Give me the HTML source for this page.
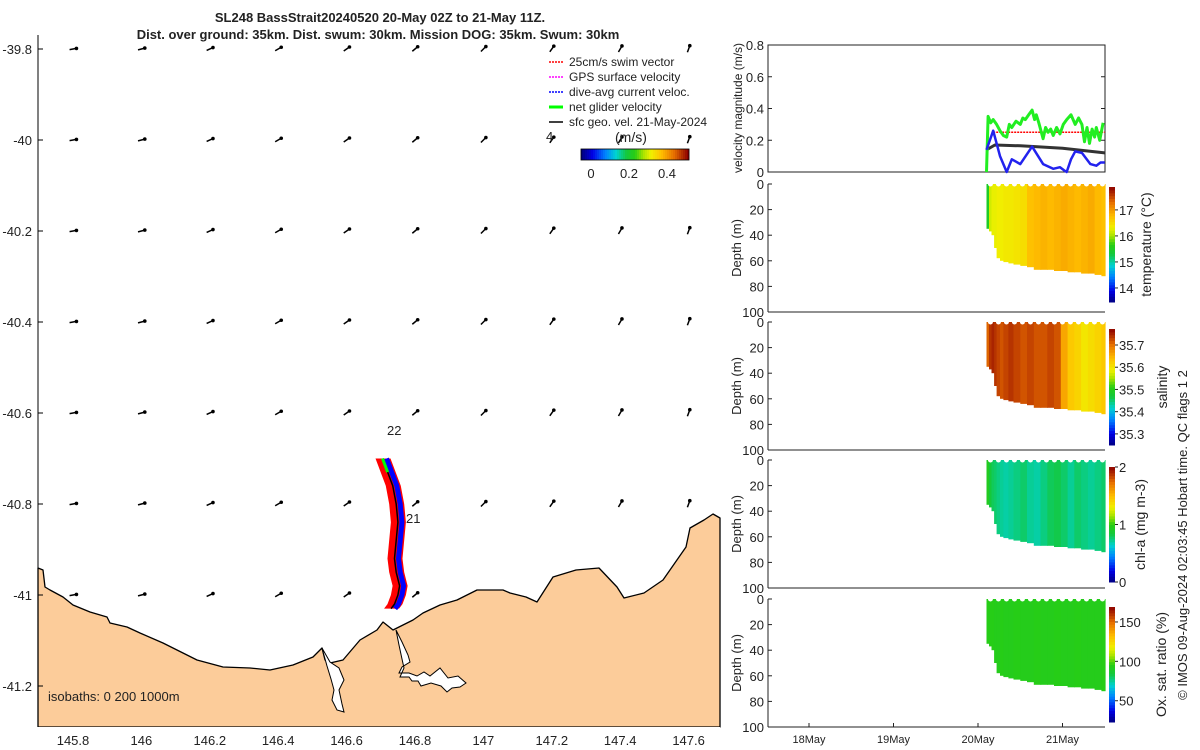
<!DOCTYPE html>
<html><head><meta charset="utf-8">
<style>
html,body{margin:0;padding:0;background:#fff;}
svg{display:block;font-family:"Liberation Sans","DejaVu Sans",sans-serif;}
text{fill:#222;}
</style></head>
<body>
<svg id="chart" width="1200" height="750" viewBox="0 0 1200 750" xmlns="http://www.w3.org/2000/svg">
<text x="380" y="22" text-anchor="middle" font-weight="bold" font-size="13">SL248 BassStrait20240520 20-May 02Z to 21-May 11Z.</text>
<text x="378" y="39" text-anchor="middle" font-weight="bold" font-size="13">Dist. over ground: 35km. Dist. swum: 30km. Mission DOG: 35km. Swum: 30km</text>
<g id="map"></g>
<g id="right"></g>
</svg>
<script>
// ---------- DATA ----------
const lonTicks=[145.8,146,146.2,146.4,146.6,146.8,147,147.2,147.4,147.6];
const latTicks=[-39.8,-40,-40.2,-40.4,-40.6,-40.8,-41,-41.2];
const arrowLons=[145.8,146,146.2,146.4,146.6,146.8,147,147.2,147.4,147.6];
const arrowLats=[-39.8,-40,-40.2,-40.4,-40.6,-40.8,-41];
const arrowAngles=[10,15,25,30,35,40,45,55,60,70];
const trackLon=[146.705,146.72,146.735,146.745,146.75,146.745,146.74,146.745,146.755,146.75,146.74,146.73];
const trackLat=[-40.70,-40.73,-40.76,-40.80,-40.84,-40.88,-40.92,-40.95,-40.98,-41.00,-41.02,-41.03];
const coastP=[[38,568],[43,570],[45,587],[50,590],[63,597],[73,605],[90,612],[107,617],[110,623],[127,627],[140,633],[163,643],[183,653],[197,660],[223,667],[250,668],[270,670],[293,665],[313,657],[322,648],[325,660],[330,663],[343,660],[360,640],[377,630],[383,622],[393,630],[407,623],[413,620],[423,613],[440,605],[457,600],[477,590],[490,590],[503,590],[510,593],[526,597],[537,602],[553,577],[576,570],[599,568],[617,587],[624,598],[644,593],[663,580],[686,547],[690,528],[704,520],[713,514],[720,518]];
const velTicks=[0,0.2,0.4,0.6,0.8];
const greenT=[20.10,20.12,20.15,20.18,20.22,20.26,20.30,20.34,20.37,20.40,20.45,20.50,20.53,20.56,20.60,20.64,20.67,20.69,20.72,20.77,20.80,20.83,20.86,20.89,20.93,20.97,21.01,21.05,21.10,21.15,21.19,21.23,21.26,21.29,21.32,21.35,21.38,21.40,21.44,21.48];
const greenV=[0.0,0.35,0.31,0.33,0.30,0.26,0.23,0.22,0.30,0.28,0.32,0.30,0.34,0.33,0.36,0.39,0.33,0.36,0.31,0.21,0.28,0.25,0.27,0.23,0.28,0.24,0.30,0.33,0.36,0.30,0.34,0.30,0.19,0.28,0.18,0.27,0.22,0.28,0.20,0.31];
const blueT=[20.10,20.18,20.26,20.34,20.40,20.50,20.64,20.77,20.89,20.97,21.02,21.05,21.10,21.15,21.23,21.33,21.40,21.45,21.50];
const blueV=[0.14,0.26,0.10,0.00,0.08,0.05,0.16,0.05,0.02,0.03,0.01,0.00,0.08,0.13,0.12,0.05,0.04,0.06,0.06];
const blackT=[20.10,20.20,20.50,21.00,21.50];
const blackV=[0.14,0.17,0.165,0.15,0.12];
const redT=[20.18,21.50];
const redV=[0.25,0.25];
const dayTicks=[18,19,20,21];
const dayLabels=["18May","19May","20May","21May"];
const profT=[20.10,20.13,20.16,20.19,20.22,20.26,20.30,20.36,20.42,20.50,20.58,20.66,20.74,20.82,20.90,20.98,21.06,21.14,21.22,21.30,21.38,21.46];
const profDepth=[35,37,40,50,58,60,61,62,63,64,65,67,67,67,68,68,69,69,70,70,71,72];
const tempV=[15.5,16.2,16.3,16.3,16.35,16.35,16.4,16.4,16.45,16.5,16.75,16.8,16.85,16.8,16.85,16.9,16.85,16.8,16.85,16.9,16.8,16.75];
const salV=[35.71,35.74,35.75,35.74,35.73,35.72,35.73,35.74,35.73,35.72,35.73,35.72,35.72,35.73,35.72,35.66,35.63,35.62,35.60,35.61,35.62,35.63];
const chlV=[0.95,0.85,0.8,0.78,0.75,0.72,0.7,0.72,0.75,0.78,0.72,0.7,0.75,0.8,0.82,0.78,0.72,0.78,0.75,0.72,0.75,0.78];
const oxyV=[95,95,95,94,94,95,94,94,95,94,94,95,94,94,95,94,94,95,94,94,94,95];
const depthTicks=[0,20,40,60,80,100];
const tempTicks=[14,15,16,17], salTicks=[35.3,35.4,35.5,35.6,35.7], chlTicks=[0,1,2], oxyTicks=[50,100,150], legTicks=[0,0.2,0.4];

// ---------- HELPERS ----------
const NS="http://www.w3.org/2000/svg";
function mk(tag,attrs,parent,txt){const e=document.createElementNS(NS,tag);for(const k in attrs)e.setAttribute(k,attrs[k]);if(txt!==undefined)e.textContent=txt;parent.appendChild(e);return e;}
const lonX=lon=>73+(lon-145.8)*342;
const latY=lat=>49+(-39.8-lat)*455;
const stops=[[0,[0,0,128]],[0.1,[0,0,230]],[0.22,[0,130,255]],[0.32,[0,210,210]],[0.42,[20,200,60]],[0.5,[40,205,20]],[0.58,[170,228,0]],[0.65,[240,240,0]],[0.75,[255,190,0]],[0.87,[230,110,0]],[1,[140,0,0]]];
function cmap(f){f=Math.max(0,Math.min(1,f));for(let i=1;i<stops.length;i++){if(f<=stops[i][0]){const a=stops[i-1],b=stops[i],r=(f-a[0])/(b[0]-a[0]);const c=a[1].map((v,j)=>Math.round(v+(b[1][j]-v)*r));return `rgb(${c})`;}}return 'rgb(140,0,0)';}

// ---------- MAP ----------
const map=document.getElementById('map');
let d='M'+coastP.map(p=>p[0]+','+p[1]).join(' L')+' L720,727 L38,727 Z';
let land=mk('path',{d:d,fill:'#fccc9a',stroke:'#000','stroke-width':1.3,'stroke-linejoin':'round'},map);


let riv=mk('path',{d:'M396,630 L402,642 L408,655 L410,662 L402,667 L399,673 L409,673 L417,676 L424,672 L430,676 L440,668 L448,678 L458,676 L466,683 L460,687 L452,688 L447,692 L441,686 L431,683 L421,686 L418,681 L412,681 L409,677 L400,677 L404,668 L402,659 L399,645 Z M322,648 L327,666 L331,679 L334,690 L332,700 L337,710 L344,712 L342,704 L339,690 L344,680 L339,668 L330,662 Z',fill:'#fff',stroke:'#000','stroke-width':1},map);


mk('rect',{x:0,y:727,width:720,height:23,fill:'#fff'},map);
mk('line',{x1:38,y1:35,x2:38,y2:727,stroke:'#000','stroke-width':1},map);
lonTicks.forEach(l=>{const t=mk('text',{x:lonX(l),y:745,'text-anchor':'middle','font-size':13},map,String(l));});
latTicks.forEach(l=>{const y=latY(l);mk('line',{x1:38,y1:y,x2:43,y2:y,stroke:'#000'},map);const t=mk('text',{x:32,y:y+5,'text-anchor':'end','font-size':13},map,String(l));});
arrowLats.forEach(la=>arrowLons.forEach((lo,i)=>{
  if(la===-41&&lo>=147) return;
  const x=lonX(lo),y=latY(la),a=arrowAngles[i]*Math.PI/180,L=7;
  const g=mk('g',{},map);
  
  
  mk('line',{x1:x-Math.cos(a)*L/2,y1:y+Math.sin(a)*L/2,x2:x+Math.cos(a)*L/2,y2:y-Math.sin(a)*L/2,stroke:'#000','stroke-width':1.5},g);
  mk('circle',{cx:x+Math.cos(a)*L/2,cy:y-Math.sin(a)*L/2,r:1.8,fill:'#000'},g);
}));
const tx=trackLon.map(lonX), ty=trackLat.map(latY);
let rp='M'+tx.map((x,i)=>(x-7)+','+ty[i]).join(' L')+' L'+tx.slice().reverse().map((x,i)=>(x+8)+','+ty[ty.length-1-i]).join(' L')+' Z';
let red=mk('path',{d:rp,fill:'#f00'},map);


let bl=mk('polyline',{points:tx.map((x,i)=>(x+4)+','+ty[i]).join(' '),fill:'none',stroke:'#00f','stroke-width':5},map);


let bk=mk('polyline',{points:tx.map((x,i)=>x+','+ty[i]).join(' '),fill:'none',stroke:'#000','stroke-width':1.5},map);


mk('line',{x1:tx[0],y1:ty[0],x2:tx[1],y2:ty[1],stroke:'#0f0','stroke-width':3},map);
mk('text',{x:387,y:435,'font-size':13},map,'22');
mk('text',{x:406,y:523,'font-size':13},map,'21');
const iso=mk('text',{x:48,y:701,'font-size':13},map,'isobaths: 0   200  1000m');
iso.setAttribute('xml:space','preserve');
const leg=[['#f00','25cm/s swim vector'],['#f0f','GPS surface velocity'],['#00f','dive-avg current veloc.'],['#0f0','net glider velocity'],['#000','sfc geo. vel. 21-May-2024']];
leg.forEach((l,i)=>{const y=66+i*15;const g=mk('g',{},map);
 mk('line',{x1:549,y1:y-4,x2:563,y2:y-4,stroke:l[0],'stroke-width':i===3?3:1.5,'stroke-dasharray':i<3?'2,1':'none'},g);
 mk('text',{x:569,y:y,'font-size':12},g,l[1]);});
mk('text',{x:546,y:141,'font-size':13},map,'4');
mk('text',{x:615,y:142,'font-size':14},map,'(m/s)');
for(let i=0;i<54;i++)mk('rect',{x:581+i*2,y:149,width:2.2,height:11,fill:cmap(i/53)},map);
mk('rect',{x:581,y:149,width:108,height:11,fill:'none',stroke:'#000','stroke-width':0.8},map);
legTicks.forEach(v=>{const x=591+v/0.2*38;mk('text',{x:x,y:178,'text-anchor':'middle','font-size':13},map,String(v));});

// ---------- RIGHT PANELS ----------
const R=document.getElementById('right');
const X0=768,X1=1105;
const tX=t=>809+(t-18)*84.5;
const vY=v=>172-v*158.75;
const vp=mk('g',{},R);
mk('rect',{x:X0,y:45,width:X1-X0,height:127,fill:'none',stroke:'#222','stroke-width':1},vp);
velTicks.forEach(v=>{mk('line',{x1:X0,y1:vY(v),x2:X0+4,y2:vY(v),stroke:'#222'},vp);mk('line',{x1:X1-4,y1:vY(v),x2:X1,y2:vY(v),stroke:'#222'},vp);mk('text',{x:764,y:vY(v)+5,'text-anchor':'end','font-size':13},vp,String(v));});
mk('text',{x:0,y:0,transform:'translate(742,108) rotate(-90)','text-anchor':'middle','font-size':12},vp,'velocity magnitude (m/s)');
function series(T,V,col,w,name,dash){const p=mk('polyline',{points:T.map((t,i)=>tX(t).toFixed(1)+','+vY(V[i]).toFixed(1)).join(' '),fill:'none',stroke:col,'stroke-width':w,'stroke-linejoin':'round'},vp);if(dash)p.setAttribute('stroke-dasharray',dash);}
series(redT,redV,'#f00',1.5,'swim-speed-line','2,1');
series(blackT,blackV,'#333',3,'geostrophic-speed-line');
series(greenT,greenV,'#2e2',3,'net-velocity-line');
series(blueT,blueV,'#22e',2.5,'dive-avg-speed-line');
const panels=[
 {top:184,vals:tempV,min:13.46,max:17.88,ticks:tempTicks,cbTop:187,cbBot:302,label:'temperature (°C)',lx:1151,name:'temperature-panel'},
 {top:322,vals:salV,min:35.25,max:35.772,ticks:salTicks,cbTop:329,cbBot:445,label:'salinity',lx:1167,name:'salinity-panel'},
 {top:460,vals:chlV,min:0,max:2,ticks:chlTicks,cbTop:467,cbBot:582,label:'chl-a (mg m-3)',lx:1145,name:'chlorophyll-panel'},
 {top:599,vals:oxyV,min:23,max:169,ticks:oxyTicks,cbTop:607,cbBot:722,label:'Ox. sat. ratio (%)',lx:1166,name:'oxygen-panel'}];
panels.forEach(P=>{
 const g=mk('g',{},R);
 const dY=dep=>P.top+dep*1.28;
 for(let i=0;i<profT.length;i++){
   const x0=tX(profT[i]), x1=i<profT.length-1?tX(profT[i+1]):X1;
   mk('rect',{x:x0.toFixed(1),y:P.top,width:(x1-x0+0.6).toFixed(1),height:(profDepth[i]*1.28).toFixed(1),fill:cmap((P.vals[i]-P.min)/(P.max-P.min))},g);
 }
 for(let x=tX(profT[0])+4;x<X1;x+=8)mk('circle',{cx:x,cy:P.top,r:2.5,fill:'#fff'},g);
 mk('line',{x1:X0,y1:P.top,x2:X0,y2:P.top+128,stroke:'#222'},g);
 mk('line',{x1:X0,y1:P.top+128,x2:X1,y2:P.top+128,stroke:'#222'},g);
 depthTicks.forEach(v=>{mk('line',{x1:X0,y1:dY(v),x2:X0+4,y2:dY(v),stroke:'#222'},g);mk('text',{x:764,y:dY(v)+5,'text-anchor':'end','font-size':13},g,String(v));});
 mk('text',{x:0,y:0,transform:`translate(741,${P.top+64}) rotate(-90)`,'text-anchor':'middle','font-size':13},g,'Depth (m)');
 const n=40,h=(P.cbBot-P.cbTop)/n;
 for(let k=0;k<n;k++)mk('rect',{x:1109,y:(P.cbBot-(k+1)*h).toFixed(1),width:6,height:(h+0.5).toFixed(1),fill:cmap((k+0.5)/n)},g);
 P.ticks.forEach(v=>{const y=P.cbBot-(v-P.min)/(P.max-P.min)*(P.cbBot-P.cbTop);mk('line',{x1:1115,y1:y,x2:1118,y2:y,stroke:'#222'},g);mk('text',{x:1119,y:y+5,'font-size':13},g,String(v));});
 mk('text',{x:0,y:0,transform:`translate(${P.lx},${(P.cbTop+P.cbBot)/2}) rotate(-90)`,'text-anchor':'middle','font-size':14},g,P.label);
});
dayTicks.forEach((t,i)=>{mk('line',{x1:tX(t),y1:723,x2:tX(t),y2:727,stroke:'#222'},R);const l=mk('text',{x:tX(t),y:743,'text-anchor':'middle','font-size':11},R,dayLabels[i]);});
const cp=mk('text',{x:0,y:0,transform:'translate(1187,535) rotate(-90)','text-anchor':'middle','font-size':13},R,'© IMOS 09-Aug-2024 02:03:45 Hobart time. QC flags 1  2');
cp.setAttribute('xml:space','preserve');


</script>
</body></html>
